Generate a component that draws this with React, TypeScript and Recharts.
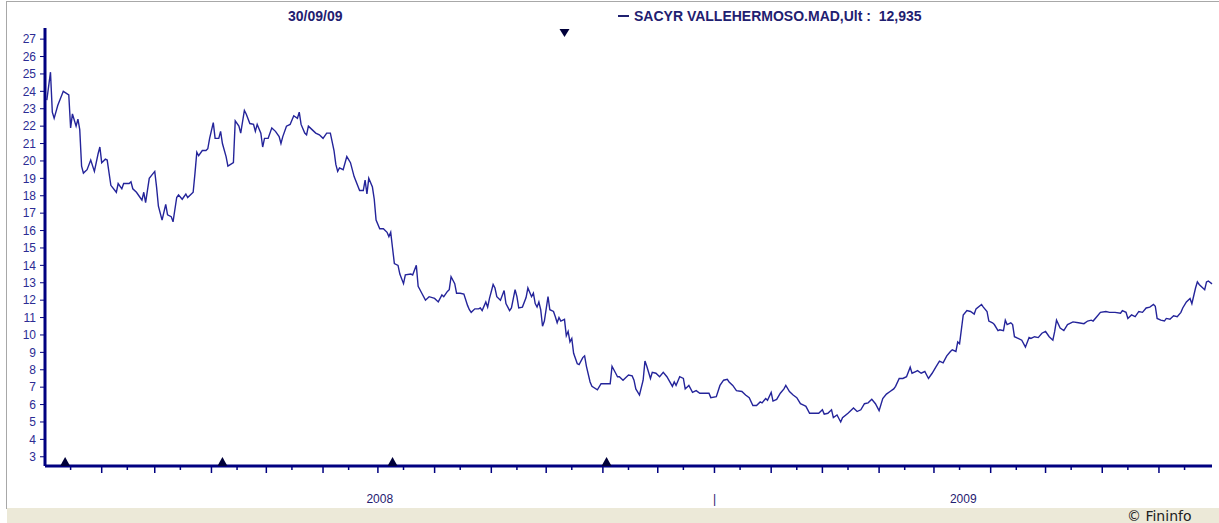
import { LineChart, Line, XAxis, YAxis, ReferenceDot } from 'recharts'

// day offsets from 1 Jan 2008 and the closing price read for that session
const days = [
  1, 3, 4, 5, 7, 10, 13, 14, 15, 17, 18, 19, 20, 21, 23, 25, 27, 29, 30, 31,
  33, 34, 36, 39, 40, 42, 43, 46, 47, 48, 50, 52, 53, 54, 55, 57, 60, 61, 62, 64,
  66, 67, 69, 70, 72, 73, 75, 77, 78, 81, 82, 83, 84, 86, 88, 89, 90, 92, 93, 95,
  96, 97, 99, 100, 103, 104, 106, 107, 109, 110,
  112, 114, 115, 116, 118, 119, 120, 122, 124, 126, 128, 129, 130, 132, 134, 136, 138, 139, 140, 142,
  143, 144, 146, 148, 150, 152, 154, 156, 158, 159, 160, 161, 163, 165, 167, 169, 172, 174, 175, 176,
  177, 179, 180, 181, 183, 185, 187, 188, 189, 190, 191, 193, 194, 196, 197, 200, 201, 203, 204, 205,
  206, 208, 210,
  213, 215, 217, 218, 220, 221, 222, 224, 225, 227, 229, 231, 232, 233, 235, 237, 238, 239, 241, 242,
  243, 245, 246, 247, 249, 251, 252, 254, 255, 257, 258, 259, 261, 263, 264, 266, 267, 268, 269, 270,
  271, 272, 273, 275, 276, 278, 279, 280, 281, 282, 284, 285, 286, 287, 288, 289, 291, 292, 294, 295,
  296, 298, 299, 302, 304, 306, 309, 310, 312, 313, 314, 316, 317, 319, 321, 322, 323, 325,
  327, 328, 329, 331, 332, 334, 336, 338, 340, 343, 344, 345, 347, 349, 350, 352, 354, 356, 358, 363,
  364, 367, 369, 371, 373, 374, 376, 378, 381, 383, 385, 387, 389, 391, 392, 394, 395, 397, 398, 400,
  402, 404, 405, 407, 409, 411, 413, 415, 416, 418, 421, 423, 425, 426, 428, 430, 431, 433, 435, 436,
  439,
  440, 442, 444, 446, 448, 450, 452, 454, 456, 458, 460, 462, 464, 465, 467, 469, 471, 473, 474, 476,
  477, 479, 481, 482, 483, 485, 487, 489, 491, 493, 495, 496, 498, 499, 500, 502, 504, 506, 508, 509,
  512, 513, 515, 516, 518, 519, 521, 522, 524, 525, 526, 528, 529, 530, 532, 534, 536, 538, 539, 541,
  543, 545, 547, 549, 551, 552, 553, 555,
  557, 559, 562, 565, 568, 570, 572, 573, 575, 577, 580, 582, 585, 588, 589, 591, 592, 594, 596, 598,
  600, 602, 604, 606, 607, 608, 610, 612, 613, 615, 617, 619, 621, 622, 624, 626, 627, 629, 630, 631,
  633, 634, 635, 636, 638,
]

const prices = [
  23.5, 25.1, 22.8, 22.45, 23.2, 24.0, 23.8, 21.9, 22.7, 22.0, 22.4, 21.8, 19.7, 19.3, 19.5, 20.05, 19.4, 20.4, 20.8, 19.9,
  20.1, 20.05, 18.6, 18.2, 18.7, 18.4, 18.7, 18.7, 18.8, 18.4, 18.2, 17.9, 17.75, 18.2, 17.6, 19.0, 19.4, 18.5, 17.4, 16.6,
  17.5, 16.9, 16.8, 16.5, 17.9, 18.05, 17.8, 18.1, 17.9, 18.2, 19.3, 20.5, 20.3, 20.6, 20.6, 20.7, 21.3, 22.2, 21.3, 21.3,
  21.7, 21.0, 20.25, 19.7, 19.9, 22.3, 22.0, 21.6, 22.9, 22.7,
  22.15, 22.1, 21.7, 22.1, 21.6, 20.8, 21.3, 21.3, 21.9, 21.7, 21.4, 21.0, 21.4, 22.0, 22.1, 22.6, 22.45, 22.8, 22.1, 21.6,
  21.5, 22.0, 21.8, 21.6, 21.5, 21.3, 21.6, 21.6, 20.6, 19.8, 19.4, 19.6, 19.5, 20.25, 19.9, 19.1, 18.3, 18.3, 18.9, 18.1,
  19.0, 18.5, 17.8, 16.6, 16.1, 16.1, 15.9, 15.65, 15.9, 15.0, 14.1, 14.0, 13.5, 12.95, 13.45, 13.5, 13.45, 14.0, 12.8, 12.6,
  12.4, 12.0, 12.2,
  12.1, 11.9, 12.3, 12.2, 12.5, 12.6, 13.35, 12.95, 12.4, 12.4, 12.35, 11.7, 11.45, 11.3, 11.5, 11.5, 11.55, 11.4, 11.9, 11.6,
  12.1, 12.9, 12.7, 12.2, 12.0, 12.55, 11.8, 11.4, 11.55, 12.6, 12.2, 11.55, 11.6, 12.15, 12.7, 12.2, 12.4, 11.8, 11.6, 11.9,
  11.45, 10.5, 10.8, 12.2, 11.45, 11.35, 11.05, 10.7, 11.0, 10.8, 10.9, 9.95, 10.2, 9.6, 9.8, 8.95, 8.35, 8.3, 8.7, 8.8,
  8.2, 7.3, 7.05, 6.85, 7.2, 7.2, 7.2, 8.2, 7.8, 7.6, 7.6, 7.4, 7.5, 7.7, 7.65, 7.4, 6.9, 6.55,
  7.4, 8.5, 8.2, 7.5, 7.85, 7.8, 7.6, 7.85, 7.6, 7.05, 7.3, 7.1, 7.6, 7.5, 6.9, 7.1, 6.7, 6.8, 6.65, 6.65,
  6.4, 6.45, 7.1, 7.4, 7.45, 7.3, 7.1, 6.8, 6.75, 6.55, 6.4, 5.95, 5.95, 6.15, 6.1, 6.35, 6.25, 6.7, 6.2, 6.3,
  6.65, 6.9, 7.1, 6.75, 6.55, 6.4, 6.05, 5.95, 5.9, 5.5, 5.5, 5.5, 5.7, 5.45, 5.5, 5.7, 5.25, 5.4, 5.0, 5.25,
  5.5,
  5.6, 5.8, 5.6, 5.7, 6.05, 6.1, 6.3, 6.05, 5.65, 6.35, 6.6, 6.75, 6.9, 7.05, 7.5, 7.5, 7.6, 8.15, 7.8, 7.9,
  7.95, 7.8, 7.9, 7.7, 7.5, 7.8, 8.15, 8.5, 8.4, 8.8, 9.05, 9.15, 9.05, 9.6, 9.5, 11.15, 11.4, 11.35, 11.2, 11.5,
  11.75, 11.6, 11.35, 10.8, 10.7, 10.6, 10.25, 10.3, 10.25, 10.85, 10.6, 10.7, 10.6, 9.9, 9.8, 9.7, 9.3, 9.85, 9.8, 9.9,
  9.85, 10.1, 10.2, 9.9, 9.7, 10.2, 10.85, 10.4,
  10.25, 10.6, 10.75, 10.7, 10.65, 10.8, 10.85, 10.8, 11.05, 11.3, 11.35, 11.3, 11.3, 11.25, 11.4, 11.3, 10.95, 11.15, 11.05, 11.35,
  11.3, 11.55, 11.6, 11.75, 11.65, 10.95, 10.85, 10.8, 10.95, 10.9, 11.1, 11.05, 11.3, 11.55, 11.9, 12.1, 11.8, 12.7, 13.05, 12.9,
  12.7, 12.6, 13.05, 13.1, 12.935,
]

const yTicks = [3, 4, 5, 6, 7, 8, 9, 10, 11, 12, 13, 14, 15, 16, 17, 18, 19, 20, 21, 22, 23, 24, 25, 26, 27]
const upMarkerDays = [11, 97, 190, 307]
const downMarkerDays = [284]
const yearLabels = [
  { day: 183, text: '2008' },
  { day: 366, text: '|' },
  { day: 502, text: '2009' },
]
const lastDate = '30/09/09'
const seriesName = 'SACYR VALLEHERMOSO.MAD,Ult'
const lastValue = '12,935'

const Y_MIN = 2.47
const Y_MAX = 27.64
const LAST_DAY = 638

const NAVY = '#000080'
const LINE = '#24249a'
const TEXT = '#1f2070'

const start = Date.UTC(2008, 0, 1)
const dayOf = (y: number, m: number, d: number) => Math.round((Date.UTC(y, m, d) - start) / 86400000)

const monthStarts: number[] = []
const midMonths: number[] = []
for (let i = 0; i < 21; i++) {
  const y = 2008 + Math.floor(i / 12)
  const m = i % 12
  if (i > 0) monthStarts.push(dayOf(y, m, 1))
  midMonths.push(dayOf(y, m, 15))
}
const majorSet = new Set(monthStarts)
const xTicks = Array.from(new Set([...monthStarts, ...midMonths, ...yearLabels.map((l) => l.day)])).sort((a, b) => a - b)

const chartData = days.map((d, i) => ({ day: d, price: prices[i] }))

function TimeTick(props: any) {
  const { x, y, payload } = props
  const v = payload.value
  const label = yearLabels.find((l) => l.day === v)
  const isMajor = majorSet.has(v)
  const isMinor = midMonths.includes(v)
  return (
    <g>
      {(isMajor || isMinor) && (
        <line x1={x} x2={x} y1={y} y2={y + (isMajor ? 7 : 4)} stroke={NAVY} strokeWidth={1.5} />
      )}
      {label && (
        <text x={x} y={y + 37} textAnchor="middle" fontSize={12} fill={TEXT}>
          {label.text}
        </text>
      )}
    </g>
  )
}

const upTriangle = (p: any) => (
  <path d={`M${p.cx - 5},${p.cy} L${p.cx + 5},${p.cy} L${p.cx},${p.cy - 9} Z`} fill="#00003a" />
)
const downTriangle = (p: any) => (
  <path d={`M${p.cx - 5},${p.cy + 1} L${p.cx + 5},${p.cy + 1} L${p.cx},${p.cy + 9} Z`} fill="#00003a" />
)

export default function App() {
  return (
    <div
      style={{
        position: 'absolute',
        left: 0,
        top: 0,
        width: 1219,
        height: 523,
        background: '#fff',
        fontFamily: '"Liberation Sans", Arial, sans-serif',
        overflow: 'hidden',
      }}
    >
      {/* outer frame */}
      <div style={{ position: 'absolute', left: 6, top: 1, width: 1213, height: 507, borderLeft: '1px solid #a8a8a8', borderTop: '1px solid #a8a8a8' }} />

      <div style={{ position: 'absolute', left: 288, top: 9, fontSize: 14, lineHeight: '14px', fontWeight: 'bold', color: TEXT }}>
        {lastDate}
      </div>
      <div style={{ position: 'absolute', left: 618, top: 9, fontSize: 14, lineHeight: '14px', fontWeight: 'bold', color: TEXT, whiteSpace: 'pre', display: 'flex', alignItems: 'center' }}>
        <span style={{ display: 'inline-block', width: 11, height: 2, background: TEXT, marginRight: 5 }} />
        <span>{`${seriesName} :  ${lastValue}`}</span>
      </div>

      <div style={{ position: 'absolute', left: 0, top: 0 }}>
        <LineChart width={1219} height={523} data={chartData} margin={{ top: 28, right: 7, bottom: 12, left: 5 }}>
          <XAxis
            xAxisId="top"
            orientation="top"
            dataKey="day"
            type="number"
            domain={[0, LAST_DAY]}
            height={0}
            tick={false}
            tickLine={false}
            axisLine={{ stroke: '#3a3a3a', strokeWidth: 1.5 }}
          />
          <XAxis
            dataKey="day"
            type="number"
            domain={[0, LAST_DAY]}
            ticks={xTicks}
            interval={0}
            height={45}
            tickSize={0}
            tickMargin={0}
            tickLine={false}
            tick={<TimeTick />}
            axisLine={{ stroke: NAVY, strokeWidth: 3 }}
          />
          <YAxis
            domain={[Y_MIN, Y_MAX]}
            ticks={yTicks}
            interval={0}
            allowDataOverflow
            width={40}
            tickSize={5}
            tickMargin={4}
            tick={{ fontSize: 12, fill: '#2c2c94' }}
            tickLine={{ stroke: NAVY }}
            axisLine={{ stroke: NAVY, strokeWidth: 3 }}
          />
          <YAxis
            yAxisId="right"
            orientation="right"
            domain={[Y_MIN, Y_MAX]}
            width={0}
            tick={false}
            tickLine={false}
            axisLine={{ stroke: '#3a3a3a', strokeWidth: 1.5 }}
          />
          <Line
            type="linear"
            dataKey="price"
            stroke={LINE}
            strokeWidth={1.4}
            dot={false}
            isAnimationActive={false}
          />
          {upMarkerDays.map((d) => (
            <ReferenceDot key={`u${d}`} x={d} y={Y_MIN} r={5} ifOverflow="visible" shape={upTriangle} />
          ))}
          {downMarkerDays.map((d) => (
            <ReferenceDot key={`d${d}`} x={d} y={Y_MAX} r={5} ifOverflow="visible" shape={downTriangle} />
          ))}
        </LineChart>
      </div>

      {/* footer band */}
      <div
        style={{
          position: 'absolute',
          left: 7,
          top: 508,
          width: 1212,
          height: 15,
          background: '#ECE9D8',
          fontFamily: '"DejaVu Sans", Verdana, sans-serif',
          fontSize: 14,
          lineHeight: '15px',
          color: '#222',
        }}
      >
        <span style={{ position: 'absolute', left: 1120, top: 1 }}>© Fininfo</span>
      </div>
    </div>
  )
}
